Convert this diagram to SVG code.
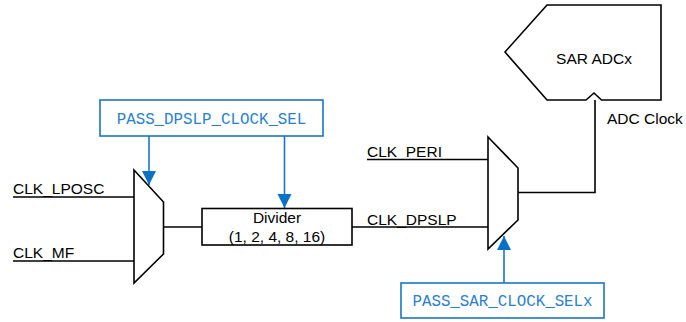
<svg xmlns="http://www.w3.org/2000/svg" width="686" height="322" viewBox="0 0 686 322">
<style>
.k{fill:none;stroke:#000;stroke-width:1.6}
.mux{fill:#fff;stroke:#000;stroke-width:1.6}
.b{fill:#fff;stroke:#1b75c4;stroke-width:1.6}
.bl{fill:none;stroke:#1b75c4;stroke-width:1.6}
.t{font-family:"Liberation Sans",Arial,sans-serif;font-size:15.5px;fill:#000}
.m{font-family:"Liberation Mono","Courier New",monospace;font-size:15.8px;fill:#2a80d0}
</style>
<defs>
<marker id="ah" markerUnits="userSpaceOnUse" markerWidth="14" markerHeight="16" refX="14" refY="7" orient="auto" viewBox="0 0 14 14">
<path d="M0,0 L14,7 L0,14 Z" fill="#0a72c6"/>
</marker>
</defs>
<g id="connectors">
<line class="k" x1="13" y1="197" x2="134" y2="197"/>
<line class="k" x1="13" y1="261" x2="134" y2="261"/>
<line class="k" x1="163" y1="227" x2="202" y2="227"/>
<line class="k" x1="352" y1="227" x2="488" y2="227"/>
<line class="k" x1="367" y1="159.5" x2="488" y2="159.5"/>
<polyline class="k" points="518,192.5 595,192.5 595,100"/>
<line class="bl" x1="149" y1="136" x2="149" y2="185" marker-end="url(#ah)"/>
<line class="bl" x1="284.5" y1="136" x2="284.5" y2="208" marker-end="url(#ah)"/>
<line class="bl" x1="504" y1="283" x2="504" y2="236" marker-end="url(#ah)"/>
</g>
<g id="sar_adc">
<polygon class="k" points="505,52 547,5 661,5 661,100 601.5,100 594,93 586,100 547,100"/>
<text class="t" x="594" y="64" text-anchor="middle">SAR ADCx</text>
</g>
<text class="t" x="607" y="124">ADC Clock</text>
<g id="pass_dpslp_clock_sel">
<rect class="b" x="100" y="100" width="223" height="36"/>
<text class="m" x="211.5" y="124" text-anchor="middle">PASS_DPSLP_CLOCK_SEL</text>
</g>
<g id="mux1">
<polygon class="mux" points="134,170 163.5,202 163.5,254 134,283"/>
</g>
<text class="t" x="13" y="194">CLK_LPOSC</text>
<text class="t" x="13" y="258">CLK_MF</text>
<g id="divider">
<rect class="k" x="202" y="208.5" width="150" height="36.5" fill="#fff"/>
<text class="t" x="277" y="223" text-anchor="middle">Divider</text>
<text class="t" x="277" y="242" text-anchor="middle">(1, 2, 4, 8, 16)</text>
</g>
<text class="t" x="367" y="224.5">CLK_DPSLP</text>
<text class="t" x="367" y="156.5">CLK_PERI</text>
<g id="mux2">
<polygon class="mux" points="488,137 518,168 518,220 488,249"/>
</g>
<g id="pass_sar_clock_selx">
<rect class="b" x="401" y="283" width="203" height="35"/>
<text class="m" x="502.5" y="306" text-anchor="middle">PASS_SAR_CLOCK_SELx</text>
</g>
</svg>
